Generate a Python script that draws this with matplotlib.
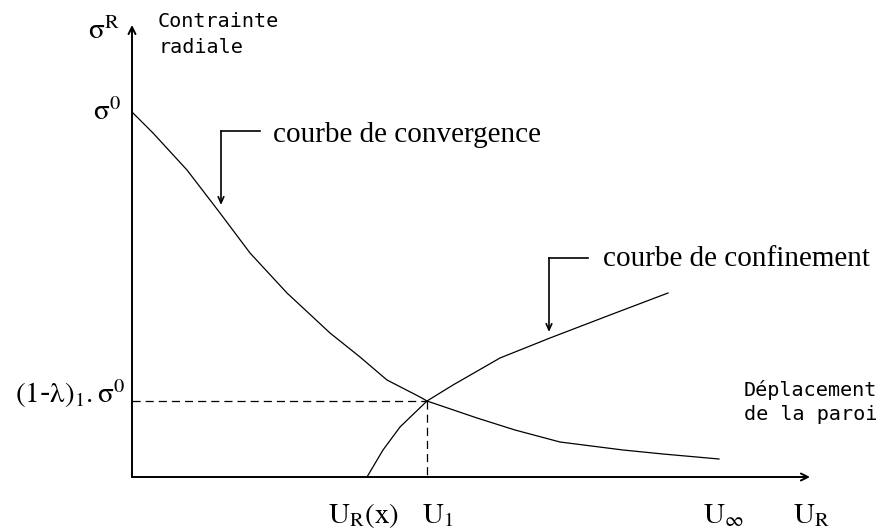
import matplotlib
matplotlib.use("Agg")
import matplotlib.pyplot as plt

# --- Values (arbitrary units, origin at the axes corner) ---
# courbe de convergence (radial stress of the ground vs wall displacement)
conv_u = [0.00, 0.21, 0.55, 0.88, 1.18, 1.55, 1.98, 2.28, 2.55, 2.88, 2.95, 3.45, 3.83, 4.28, 4.91, 5.31, 5.87]
conv_s = [3.65, 3.44, 3.07, 2.64, 2.24, 1.84, 1.44, 1.20, 0.97, 0.80, 0.76, 0.59, 0.47, 0.35, 0.27, 0.23, 0.18]

# courbe de confinement (support reaction)
conf_u = [2.35, 2.51, 2.68, 2.95, 3.21, 3.68, 4.18, 4.78, 5.36]
conf_s = [0.00, 0.27, 0.50, 0.76, 0.92, 1.19, 1.39, 1.62, 1.84]

# equilibrium point
eq_u = 2.95
eq_s = 0.76

# x labels under the axis
u_labels = [r"$\mathrm{U}_{\mathrm{R}}(\mathrm{x})$", r"$\mathrm{U}_{1}$", r"$\mathrm{U}_{\infty}$", r"$\mathrm{U}_{\mathrm{R}}$"]
u_label_pos = [1.96, 2.90, 5.71, 6.61]

plt.rcParams["mathtext.fontset"] = "stix"
SERIF = "Liberation Serif"
MONO = "DejaVu Sans Mono"

fig = plt.figure(figsize=(8.83, 5.31), dpi=100)
ax = fig.add_axes([0, 0, 1, 1])
ax.set_xlim(-1.32, 7.51)
ax.set_ylim(-0.54, 4.77)
ax.axis("off")

# --- axes with open arrow heads ---
axis_style = dict(arrowstyle="->,head_length=0.5,head_width=0.25", lw=1.4, color="black",
                  shrinkA=0, shrinkB=0)
ax.annotate("", xy=(0, 4.52), xytext=(0, 0), arrowprops=axis_style)
ax.annotate("", xy=(6.78, 0), xytext=(0, 0), arrowprops=axis_style)

# --- curves ---
ax.plot(conv_u, conv_s, color="black", lw=0.9)
ax.plot(conf_u, conf_s, color="black", lw=0.9)

# --- dashed guides to the equilibrium point ---
ax.plot([0, eq_u], [eq_s, eq_s], color="black", lw=0.9, linestyle=(0, (6.5, 4)))
ax.plot([eq_u, eq_u], [eq_s, 0], color="black", lw=0.9, linestyle=(0, (6.5, 4)))

# --- curve callouts ---
callout_style = dict(arrowstyle="->,head_length=0.45,head_width=0.2", lw=1.2, color="black",
                     shrinkA=0, shrinkB=0)
ax.plot([1.28, 0.89], [3.46, 3.46], color="black", lw=1.2)
ax.annotate("", xy=(0.89, 2.72), xytext=(0.89, 3.46), arrowprops=callout_style)
ax.text(1.41, 3.35, "courbe de convergence", family=SERIF, fontsize=21, va="baseline")

ax.plot([4.56, 4.17], [2.19, 2.19], color="black", lw=1.2)
ax.annotate("", xy=(4.17, 1.45), xytext=(4.17, 2.19), arrowprops=callout_style)
ax.text(4.71, 2.11, "courbe de confinement", family=SERIF, fontsize=21, va="baseline")

# --- axis titles ---
ax.text(-0.44, 4.38, r"$\mathrm{\sigma}^{\mathrm{R}}$", fontsize=21, va="baseline")
ax.text(0.26, 4.55, "Contrainte", family=MONO, fontsize=14.5, va="center")
ax.text(0.26, 4.29, "radiale", family=MONO, fontsize=14.5, va="center")
ax.text(6.12, 0.87, "Déplacement", family=MONO, fontsize=14.5, va="center")
ax.text(6.12, 0.62, "de la paroi", family=MONO, fontsize=14.5, va="center")

# --- y labels ---
ax.text(-0.39, 3.57, r"$\mathrm{\sigma}^{0}$", fontsize=21, va="baseline")
ax.text(-0.06, 0.74, r"$(1$-$\mathrm{\lambda})_{1}.\mathrm{\sigma}^{0}$", fontsize=21,
        va="baseline", ha="right")

# --- x labels ---
for lab, pos in zip(u_labels, u_label_pos):
    ax.text(pos, -0.46, lab, fontsize=21, va="baseline")

fig.savefig("out.png", dpi=100, facecolor="white")
